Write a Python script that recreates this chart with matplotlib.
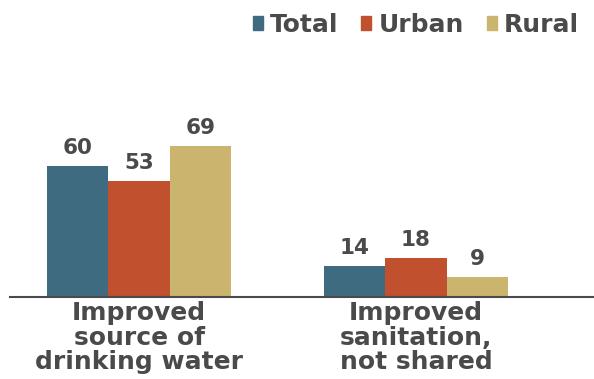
import numpy as np
import matplotlib.pyplot as plt
from matplotlib.patches import Patch

categories = ['Improved\nsource of\ndrinking water', 'Improved\nsanitation,\nnot shared']
series = ['Total', 'Urban', 'Rural']
total = [60, 14]
urban = [53, 18]
rural = [69, 9]
colors = ['#3e6b80', '#c0502e', '#cab46e']

plt.rcParams['font.family'] = ['DejaVu Sans']
txt = '#4a4a4a'

fig = plt.figure(figsize=(5.94, 3.79), dpi=100)
ax = fig.add_axes([10 / 594, 82 / 379, 584 / 594, 175 / 379])

x = np.arange(len(categories))
w = 0.222
for i, (vals, c) in enumerate(zip([total, urban, rural], colors)):
    bars = ax.bar(x + (i - 1) * w, vals, w, color=c, label=series[i])
    for b, v in zip(bars, vals):
        ax.text(b.get_x() + b.get_width() / 2, v + 5.5, str(v), ha='center', va='baseline',
                fontsize=15.5, color=txt, fontweight='bold')

ax.set_xlim(-0.466, 1.643)
ax.set_ylim(0, 80)
ax.set_xticks(x)
ax.set_xticklabels(categories, fontsize=18, color=txt, linespacing=1.02, fontweight='bold')
ax.tick_params(axis='x', length=0, pad=3)
ax.set_yticks([])
for s in ['top', 'left', 'right']:
    ax.spines[s].set_visible(False)
ax.spines['bottom'].set_color('#4a4a4a')
ax.spines['bottom'].set_linewidth(1.5)

handles = [Patch(color=c) for c in colors]
fig.legend(handles, series, loc='upper right', bbox_to_anchor=(1.013, 1.025), ncol=3, frameon=False,
           handlelength=0.4, handleheight=0.45, handletextpad=0.3, columnspacing=0.9,
           prop={'size': 18, 'weight': 'bold'}, labelcolor=txt)

fig.savefig('out.png', dpi=100)
